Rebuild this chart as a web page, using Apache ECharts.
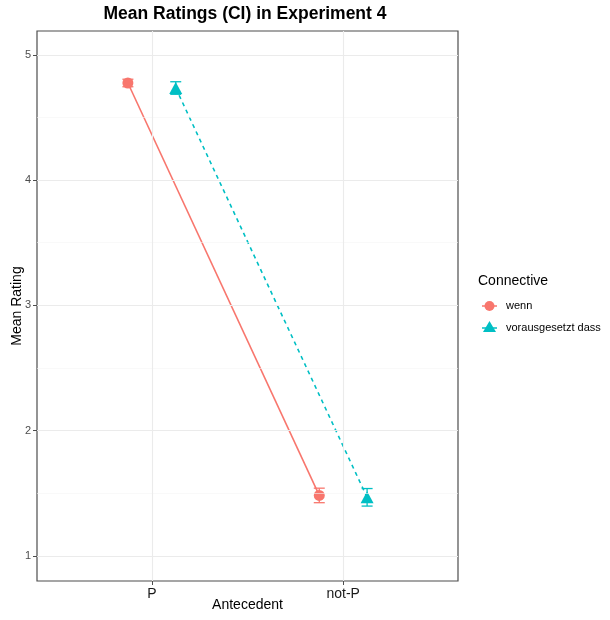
<!DOCTYPE html>
<html><head><meta charset="utf-8">
<script src="https://cdn.jsdelivr.net/npm/echarts@6/dist/echarts.min.js"></script>
<style>html,body{margin:0;padding:0;background:#fff}#c{width:610px;height:620px}</style>
</head><body><div id="c"></div>
<script>
const categories = ['P', 'not-P'];
const seriesNames = ['wenn', 'vorausgesetzt dass'];
const wennMean = [4.775, 1.483];
const wennLow = [4.745, 1.425];
const wennHigh = [4.805, 1.541];
const vdMean = [4.735, 1.468];
const vdLow = [4.685, 1.398];
const vdHigh = [4.785, 1.538];
const yTicks = [1, 2, 3, 4, 5];
const yMinor = [1.5, 2.5, 3.5, 4.5];
const dodge = 0.125;

const colors = ['#F8766D', '#00BFC4'];
const chart = echarts.init(document.getElementById('c'));

function pts(mean, off) { return mean.map((v, i) => [i + 1 + off, v]); }
function ebs(low, high, off) { return low.map((v, i) => [i + 1 + off, v, high[i]]); }

function errSeries(name, data, color) {
  return {
    type: 'custom', name: name + ' CI', silent: true, z: 3,
    renderItem: function (params, api) {
      const x = api.value(0);
      const lo = api.coord([x, api.value(1)]);
      const hi = api.coord([x, api.value(2)]);
      const hw = 5.5;
      const st = { stroke: color, lineWidth: 1.3 };
      return { type: 'group', children: [
        { type: 'line', shape: { x1: lo[0], y1: lo[1], x2: hi[0], y2: hi[1] }, style: st },
        { type: 'line', shape: { x1: lo[0] - hw, y1: lo[1], x2: lo[0] + hw, y2: lo[1] }, style: st },
        { type: 'line', shape: { x1: hi[0] - hw, y1: hi[1], x2: hi[0] + hw, y2: hi[1] }, style: st }
      ]};
    },
    data: data
  };
}

const gridLines = [];
yTicks.forEach(v => gridLines.push({ yAxis: v, lineStyle: { color: '#ebebeb', width: 1.1, type: 'solid' } }));
yMinor.forEach(v => gridLines.push({ yAxis: v, lineStyle: { color: '#f5f5f5', width: 0.6, type: 'solid' } }));
categories.forEach((c, i) => gridLines.push({ xAxis: i + 1, lineStyle: { color: '#ebebeb', width: 1.1, type: 'solid' } }));

chart.setOption({
  animation: false,
  title: { text: 'Mean Ratings (CI) in Experiment 4', left: 240, top: 0, textAlign: 'center',
    textStyle: { fontFamily: 'Liberation Sans, Arial', fontSize: 17.5, fontWeight: 'bold', color: '#000' } },
  grid: { left: 37, right: 152, top: 31, bottom: 39, outerBoundsMode: 'none', containLabel: false,
    show: true, borderColor: '#4d4d4d', borderWidth: 1.2, backgroundColor: '#fff' },
  xAxis: {
    type: 'value', min: 0.4, max: 2.6,
    name: 'Antecedent', nameLocation: 'middle', nameGap: 17, nameMoveOverlap: false,
    nameTextStyle: { fontFamily: 'Liberation Sans, Arial', fontSize: 14, color: '#000' },
    axisLine: { show: false },
    splitLine: { show: false },
    axisTick: { show: true, customValues: [1, 2], length: 4, lineStyle: { color: '#4d4d4d' } },
    axisLabel: { customValues: [1, 2], formatter: v => categories[Math.round(v) - 1] || '', margin: 6,
      fontFamily: 'Liberation Sans, Arial', fontSize: 14, color: '#1a1a1a' }
  },
  yAxis: {
    type: 'value', min: 0.80, max: 5.19,
    name: 'Mean Rating', nameLocation: 'middle', nameGap: 13, nameMoveOverlap: false,
    nameTextStyle: { fontFamily: 'Liberation Sans, Arial', fontSize: 14, color: '#000' },
    axisLine: { show: false },
    splitLine: { show: false },
    axisTick: { show: true, customValues: yTicks, length: 4, lineStyle: { color: '#4d4d4d' } },
    axisLabel: { customValues: yTicks, margin: 6, fontFamily: 'Liberation Sans, Arial', fontSize: 11, color: '#4d4d4d' }
  },
  series: [
    { type: 'line', name: 'grid', silent: true, data: [], z: 1,
      markLine: { silent: true, symbol: 'none', label: { show: false }, data: gridLines } },
    { type: 'line', name: seriesNames[0], data: pts(wennMean, -dodge), z: 4,
      lineStyle: { color: colors[0], width: 1.6 }, itemStyle: { color: colors[0] },
      symbol: 'circle', symbolSize: 11, showSymbol: true },
    { type: 'line', name: seriesNames[1], data: pts(vdMean, dodge), z: 4,
      lineStyle: { color: colors[1], width: 1.6, type: [4, 4] }, itemStyle: { color: colors[1] },
      symbol: 'triangle', symbolSize: [13, 12], showSymbol: true },
    errSeries(seriesNames[0], ebs(wennLow, wennHigh, -dodge), colors[0]),
    errSeries(seriesNames[1], ebs(vdLow, vdHigh, dodge), colors[1])
  ],
  graphic: [
    { type: 'text', left: 478, top: 274, style: { text: 'Connective', font: '14px Liberation Sans, Arial', fill: '#000' } },
    { type: 'line', shape: { x1: 482, y1: 306, x2: 497, y2: 306 }, style: { stroke: colors[0], lineWidth: 1.5 } },
    { type: 'circle', shape: { cx: 489.5, cy: 306, r: 5 }, style: { fill: colors[0] } },
    { type: 'text', left: 506, top: 300, style: { text: seriesNames[0], font: '11px Liberation Sans, Arial', fill: '#000' } },
    { type: 'line', shape: { x1: 482, y1: 328, x2: 497, y2: 328 }, style: { stroke: colors[1], lineWidth: 1.5 } },
    { type: 'polygon', shape: { points: [[489.5, 321], [496, 332], [483, 332]] }, style: { fill: colors[1] } },
    { type: 'text', left: 506, top: 322, style: { text: seriesNames[1], font: '11px Liberation Sans, Arial', fill: '#000' } }
  ]
});
</script></body></html>
